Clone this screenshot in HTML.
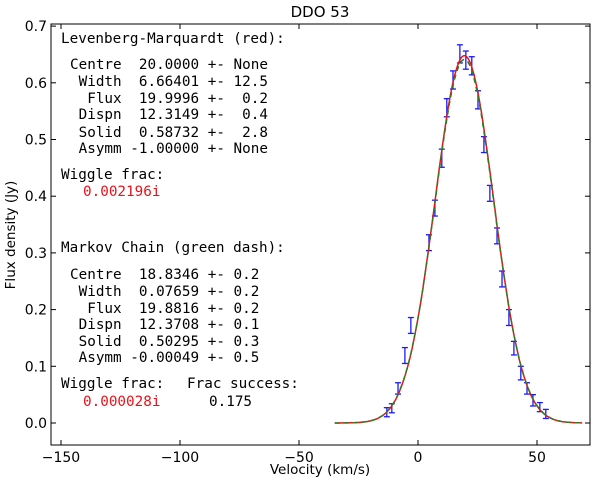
<!DOCTYPE html>
<html><head><meta charset="utf-8"><style>
body{margin:0;background:#fff;width:600px;height:483px;overflow:hidden}
svg text{font-family:"DejaVu Sans","Liberation Sans",sans-serif}
.m{font-family:"DejaVu Sans Mono","Liberation Mono",monospace;font-size:14.3px;white-space:pre}
</style></head><body>
<svg id="chart" width="600" height="483" xmlns="http://www.w3.org/2000/svg">
<text x="320" y="17" font-size="15" text-anchor="middle">DDO 53</text>
<g id="axes"></g>
<g id="marks"></g>
<g>
<text class="m" x="61" y="43">Levenberg-Marquardt (red):</text>
<text class="m" x="70" y="69">Centre  20.0000 +- None</text>
<text class="m" x="70" y="86"> Width  6.66401 +- 12.5</text>
<text class="m" x="70" y="103">  Flux  19.9996 +-  0.2</text>
<text class="m" x="70" y="119"> Dispn  12.3149 +-  0.4</text>
<text class="m" x="70" y="137"> Solid  0.58732 +-  2.8</text>
<text class="m" x="70" y="153"> Asymm -1.00000 +- None</text>
<text class="m" x="61" y="179">Wiggle frac:</text>
<text class="m" x="83" y="196" fill="#e8141c">0.002196i</text>
</g>
<g>
<text class="m" x="61" y="252">Markov Chain (green dash):</text>
<text class="m" x="70" y="279">Centre  18.8346 +- 0.2</text>
<text class="m" x="70" y="296"> Width  0.07659 +- 0.2</text>
<text class="m" x="70" y="313">  Flux  19.8816 +- 0.2</text>
<text class="m" x="70" y="329"> Dispn  12.3708 +- 0.1</text>
<text class="m" x="70" y="346"> Solid  0.50295 +- 0.3</text>
<text class="m" x="70" y="362"> Asymm -0.00049 +- 0.5</text>
<text class="m" x="61" y="388">Wiggle frac:</text>
<text class="m" x="187" y="388">Frac success:</text>
<text class="m" x="83" y="406" fill="#e8141c">0.000028i</text>
<text class="m" x="209" y="406">0.175</text>
</g>
<text x="320" y="474" font-size="13.5" text-anchor="middle">Velocity (km/s)</text>
<text transform="translate(15,235) rotate(-90)" font-size="13.5" text-anchor="middle">Flux density (Jy)</text>
</svg>
<script>
const xTicks=[-150,-100,-50,0,50];
const yTicks=[0.0,0.1,0.2,0.3,0.4,0.5,0.6,0.7];
const velocity=[-13.1,-11.0,-8.4,-5.5,-3.0,4.6,7.1,10.0,12.1,14.7,17.6,20.1,22.6,25.2,27.7,30.2,33.2,35.3,38.2,40.3,43.2,45.8,48.3,51.2,53.7];
const flux=[0.019,0.026,0.061,0.119,0.172,0.318,0.379,0.467,0.556,0.605,0.651,0.640,0.630,0.570,0.491,0.405,0.330,0.254,0.186,0.132,0.088,0.061,0.040,0.028,0.016];
const fluxErr=[0.008,0.008,0.01,0.014,0.014,0.014,0.014,0.016,0.016,0.016,0.016,0.016,0.016,0.016,0.014,0.014,0.014,0.014,0.014,0.012,0.012,0.01,0.01,0.008,0.008];
const lmParams=[19.5,12.3149,19.9996];
const mcParams=[19.5,12.3708,19.8816];
const curveRange=[-35,69];
const X=v=>418+v*2.38;
const Y=f=>423-f*567;
const NS='http://www.w3.org/2000/svg';
function mk(t,a,p){const e=document.createElementNS(NS,t);for(const k in a)e.setAttribute(k,a[k]);p.appendChild(e);return e;}
const ax=document.getElementById('axes'),mk2=document.getElementById('marks');
const L=51,R=590,T=24,B=445;
const frame=mk('rect',{x:L,y:T,width:R-L,height:B-T,fill:'none',stroke:'#000','stroke-width':1},ax);


xTicks.forEach(v=>{const x=X(v);
mk('line',{x1:x,x2:x,y1:B,y2:B-5,stroke:'#000'},ax);mk('line',{x1:x,x2:x,y1:T,y2:T+5,stroke:'#000'},ax);
const t=mk('text',{x:x,y:B+17,'font-size':14,'text-anchor':'middle'},ax);t.textContent=v<0?'\u2212'+(-v):v;

});
yTicks.forEach(f=>{const y=Y(f);
mk('line',{x1:L,x2:L+5,y1:y,y2:y,stroke:'#000'},ax);mk('line',{x1:R,x2:R-5,y1:y,y2:y,stroke:'#000'},ax);
const t=mk('text',{x:L-4,y:y+5,'font-size':14,'text-anchor':'end'},ax);t.textContent=f.toFixed(1);

});
function curve(p){let d='';for(let v=curveRange[0];v<=curveRange[1];v+=0.5){const f=p[2]/(p[1]*Math.sqrt(2*Math.PI))*Math.exp(-Math.pow(v-p[0],2)/(2*p[1]*p[1]));d+=(d?'L':'M')+X(v).toFixed(1)+','+Y(f).toFixed(1);}return d;}
velocity.forEach((v,i)=>{const x=X(v),y1=Y(flux[i]-fluxErr[i]),y2=Y(flux[i]+fluxErr[i]);
const g=mk('g',{stroke:'#1a1aff','stroke-width':1.3},mk2);


mk('line',{x1:x,x2:x,y1:y1,y2:y2},g);mk('line',{x1:x-3,x2:x+3,y1:y1,y2:y1},g);mk('line',{x1:x-3,x2:x+3,y1:y2,y2:y2},g);});
const lm=mk('path',{d:curve(lmParams),fill:'none',stroke:'#e8141c','stroke-width':1.5},mk2);


const mc=mk('path',{d:curve(mcParams),fill:'none',stroke:'#2e7d1f','stroke-width':1.5,'stroke-dasharray':'5,4'},mk2);


</script>
</body></html>
